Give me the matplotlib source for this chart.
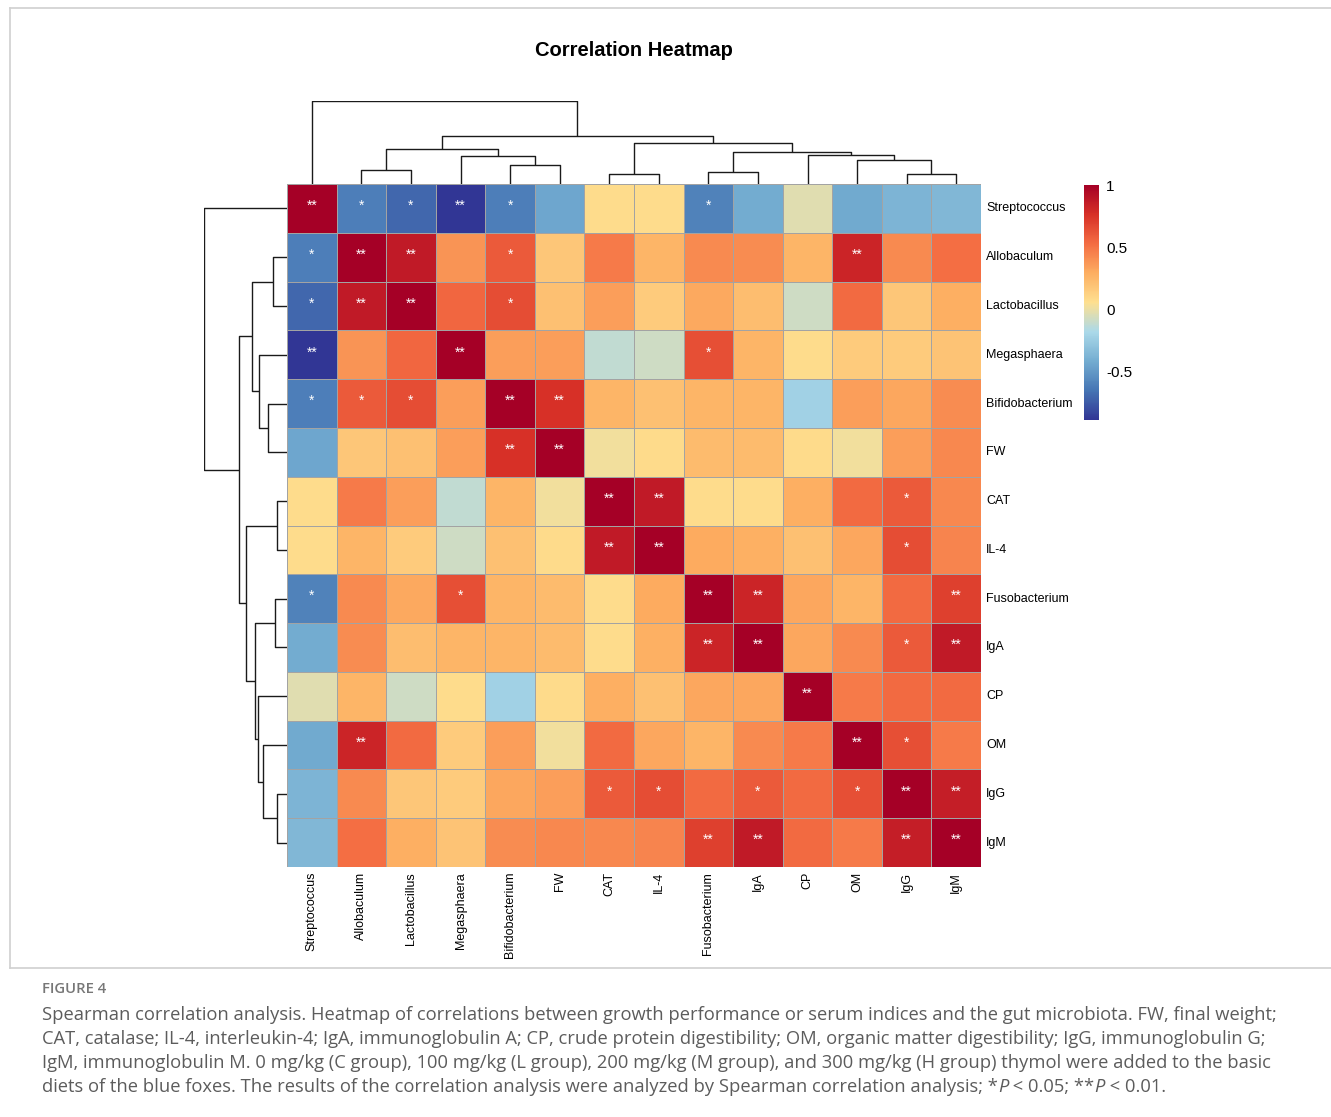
import matplotlib

matplotlib.use("Agg")
import matplotlib.pyplot as plt
import numpy as np
from matplotlib.colorbar import ColorbarBase
from matplotlib.colors import LinearSegmentedColormap, Normalize
from matplotlib.lines import Line2D

# --- data --------------------------------------------------------------------
labels = [
    "Streptococcus", "Allobaculum", "Lactobacillus", "Megasphaera",
    "Bifidobacterium", "FW", "CAT", "IL-4", "Fusobacterium", "IgA",
    "CP", "OM", "IgG", "IgM",
]

# lower triangle of the (symmetric) Spearman matrix, rows in plotted order
corr_lower = [
    [1.00],
    [-0.61, 1.00],
    [-0.70, 0.87, 1.00],
    [-0.89, 0.38, 0.555, 1.00],
    [-0.61, 0.60, 0.65, 0.35, 1.00],
    [-0.44, 0.18, 0.21, 0.35, 0.76, 1.00],
    [0.07, 0.48, 0.35, -0.12, 0.26, 0.02, 1.00],
    [0.07, 0.26, 0.155, -0.08, 0.21, 0.08, 0.87, 1.00],
    [-0.60, 0.42, 0.31, 0.64, 0.26, 0.23, 0.07, 0.30, 1.00],
    [-0.42, 0.41, 0.22, 0.26, 0.26, 0.23, 0.07, 0.28, 0.82, 1.00],
    [-0.03, 0.26, -0.085, 0.07, -0.22, 0.08, 0.29, 0.21, 0.32, 0.32, 1.00],
    [-0.43, 0.82, 0.54, 0.155, 0.35, 0.02, 0.54, 0.32, 0.26, 0.42, 0.48, 1.00],
    [-0.38, 0.42, 0.18, 0.155, 0.32, 0.35, 0.60, 0.65, 0.54, 0.60, 0.54, 0.64, 1.00],
    [-0.36, 0.525, 0.29, 0.19, 0.41, 0.43, 0.43, 0.44, 0.70, 0.87, 0.54, 0.48, 0.85, 1.00],
]

signif_lower = [
    ["**"],
    ["*", "**"],
    ["*", "**", "**"],
    ["**", "", "", "**"],
    ["*", "*", "*", "", "**"],
    ["", "", "", "", "**", "**"],
    ["", "", "", "", "", "", "**"],
    ["", "", "", "", "", "", "**", "**"],
    ["*", "", "", "*", "", "", "", "", "**"],
    ["", "", "", "", "", "", "", "", "**", "**"],
    ["", "", "", "", "", "", "", "", "", "", "**"],
    ["", "**", "", "", "", "", "", "", "", "", "", "**"],
    ["", "", "", "", "", "", "*", "*", "", "*", "", "*", "**"],
    ["", "", "", "", "", "", "", "", "**", "**", "", "", "**", "**"],
]

# hierarchical clustering merges: (child a, child b, height); leaves 0..13,
# merged clusters numbered 14, 15, ... in this order
merges = [
    (6, 7, 0.120),
    (12, 13, 0.120),
    (8, 9, 0.142),
    (1, 2, 0.168),
    (4, 5, 0.223),
    (11, 15, 0.284),
    (3, 18, 0.333),
    (10, 19, 0.346),
    (16, 21, 0.386),
    (17, 20, 0.423),
    (14, 22, 0.495),
    (23, 24, 0.575),
    (0, 25, 1.000),
]

colorbar_ticks = [-0.5, 0, 0.5, 1]

caption_head = "FIGURE 4"
caption_lines = [
    "Spearman correlation analysis. Heatmap of correlations between growth performance or serum indices and the gut microbiota. FW, final weight;",
    "CAT, catalase; IL-4, interleukin-4; IgA, immunoglobulin A; CP, crude protein digestibility; OM, organic matter digestibility; IgG, immunoglobulin G;",
    "IgM, immunoglobulin M. 0 mg/kg (C group), 100 mg/kg (L group), 200 mg/kg (M group), and 300 mg/kg (H group) thymol were added to the basic",
]
caption_last = [
    ("diets of the blue foxes. The results of the correlation analysis were analyzed by Spearman correlation analysis; *", "normal"),
    ("P", "italic"),
    (" < 0.05; **", "normal"),
    ("P", "italic"),
    (" < 0.01.", "normal"),
]

# --- build matrices -----------------------------------------------------------
n = len(labels)
corr = np.zeros((n, n))
signif = [["" for _ in range(n)] for _ in range(n)]
for i in range(n):
    for j in range(i + 1):
        corr[i, j] = corr[j, i] = corr_lower[i][j]
        signif[i][j] = signif[j][i] = signif_lower[i][j]

palette = ["#313695", "#4575B4", "#74ADD1", "#ABD9E9", "#FEE090",
           "#FDAE61", "#F46D43", "#D73027", "#A50026"]
cmap = LinearSegmentedColormap.from_list("rdylbu_cut", palette, N=256)
norm = Normalize(vmin=corr.min(), vmax=corr.max())

W, H = 1331, 1117
fig = plt.figure(figsize=(W / 100, H / 100), dpi=100)
label_font = "Liberation Sans"


def add_axes_px(left, top, width, height):
    return fig.add_axes([left / W, 1 - (top + height) / H, width / W, height / H])


def dendrogram_segments(merges, n_leaves):
    pos = {i: i + 0.5 for i in range(n_leaves)}
    hgt = {i: 0.0 for i in range(n_leaves)}
    segments = []
    for k, (a, b, h) in enumerate(merges):
        segments.append(([pos[a], pos[a], pos[b], pos[b]], [hgt[a], h, h, hgt[b]]))
        pos[n_leaves + k] = (pos[a] + pos[b]) / 2
        hgt[n_leaves + k] = h
    return segments


# frame around the figure panel
for xs, ys in (([10, W], [8, 8]), ([10, 10], [8, 968]), ([10, W], [968, 968])):
    fig.add_artist(Line2D([x / W for x in xs], [1 - y / H for y in ys],
                          color="#d0d0d0", lw=1.2))

# heatmap
ax = add_axes_px(287, 184, 694, 683)
ax.pcolormesh(np.arange(n + 1), np.arange(n + 1), corr, cmap=cmap, norm=norm,
              edgecolors="#a3a3a3", linewidth=0.7)
ax.set_xlim(0, n)
ax.set_ylim(n, 0)
ax.axis("off")
for i in range(n):
    for j in range(n):
        if signif[i][j]:
            ax.text(j + 0.5, i + 0.45, signif[i][j], ha="center", va="center",
                    color="white", fontsize=10, family=label_font)
for k, name in enumerate(labels):
    ax.text(n + 0.1, k + 0.5, name, ha="left", va="center", fontsize=9,
            family=label_font)
    ax.text(k + 0.5, n + 0.1, name, ha="center", va="top", rotation=90,
            fontsize=9, family=label_font)

segments = dendrogram_segments(merges, n)
root_height = max(h for _, _, h in merges)

ax_top = add_axes_px(287, 101, 694, 83)
for xs, ys in segments:
    ax_top.plot(xs, ys, color="#1a1a1a", lw=1.0, solid_capstyle="butt")
ax_top.set_xlim(0, n)
ax_top.set_ylim(0, root_height)
ax_top.axis("off")

ax_left = add_axes_px(204, 184, 83, 683)
for xs, ys in segments:
    ax_left.plot(ys, xs, color="#1a1a1a", lw=1.0, solid_capstyle="butt")
ax_left.set_xlim(root_height, 0)
ax_left.set_ylim(n, 0)
ax_left.axis("off")

# colour key
ax_cb = add_axes_px(1084, 185, 15, 235)
cb = ColorbarBase(ax_cb, cmap=cmap, norm=norm, orientation="vertical")
cb.outline.set_visible(False)
cb.set_ticks(colorbar_ticks)
cb.set_ticklabels([f"{t:g}" for t in colorbar_ticks])
ax_cb.tick_params(length=0, pad=5, labelsize=11)
for lab in ax_cb.get_yticklabels():
    lab.set_family(label_font)

fig.text(634 / W, 1 - 50 / H, "Correlation Heatmap", ha="center", va="center",
         fontsize=14.5, fontweight="bold", family=label_font)

# caption
caption_font = "Open Sans"
caption_color = "#5c5c5c"
caption_size = 13.2
fig.text(42 / W, 1 - 989 / H, caption_head, ha="left", va="center", fontsize=10.7,
         fontweight="semibold", color="#777777", family=caption_font)
for k, line in enumerate(caption_lines):
    fig.text(42 / W, 1 - (1015 + 24 * k) / H, line, ha="left", va="center",
             fontsize=caption_size, color=caption_color, family=caption_font)

renderer = fig.canvas.get_renderer()


def text_width(s, style):
    probe = fig.text(0, 0, "a" + s + "a", fontsize=caption_size, style=style,
                     family=caption_font)
    base = fig.text(0, 0, "aa", fontsize=caption_size, style=style,
                    family=caption_font)
    w = probe.get_window_extent(renderer).width - base.get_window_extent(renderer).width
    probe.remove()
    base.remove()
    return w


x = 42.0
y_last = 1015 + 24 * len(caption_lines)
for s, style in caption_last:
    fig.text(x / W, 1 - y_last / H, s, ha="left", va="center", fontsize=caption_size,
             style=style, color=caption_color, family=caption_font)
    x += text_width(s, style)

fig.savefig("out.png", dpi=100, facecolor="white")
